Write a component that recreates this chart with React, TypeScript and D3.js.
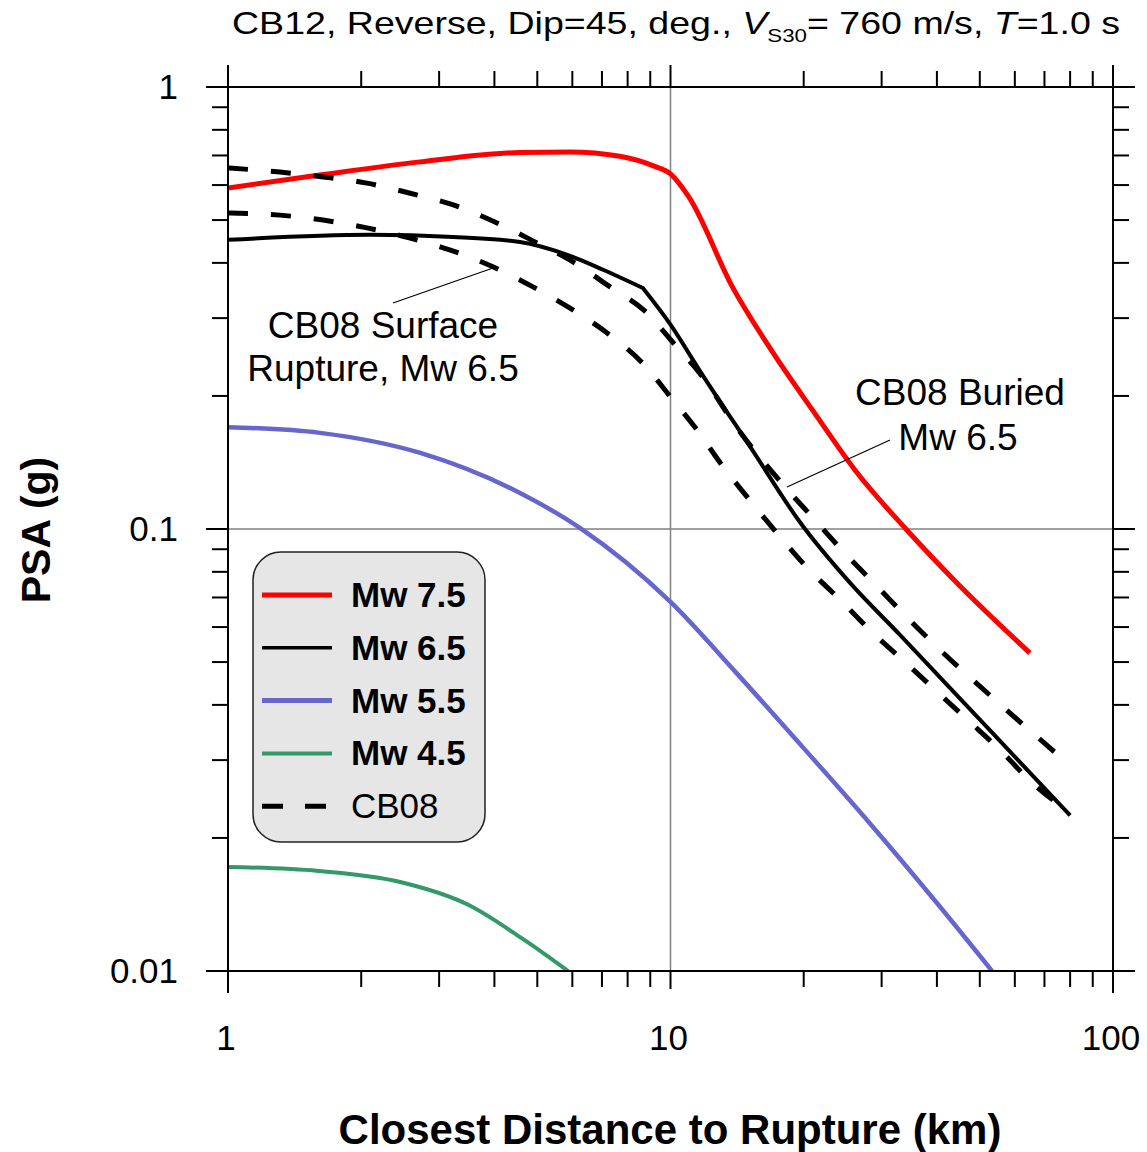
import React from "react";
import * as d3 from "d3";

const mw75Dist = [1, 1.61, 2.72, 4.57, 5.93, 7.68, 9.12, 10, 11.0, 13.8, 17.0, 21.0, 26.4, 34.2, 44.4, 64.9];
const mw75Psa = [0.591, 0.632, 0.677, 0.711, 0.713, 0.697, 0.664, 0.636, 0.564, 0.353, 0.2515, 0.185, 0.134, 0.0995, 0.0755, 0.0524];

const mw65Dist = [1, 2.09, 3.23, 4.57, 5.93, 7.04, 8.66, 10, 11.65, 15.3, 19.6, 25.4, 33.0, 42.8, 55.6, 80];
const mw65Psa = [0.451, 0.463, 0.458, 0.446, 0.415, 0.386, 0.351, 0.290, 0.228, 0.151, 0.1037, 0.0757, 0.0576, 0.0437, 0.0331, 0.0225];
const mw65BreakAt = [6]; // kink in the curve (index into mw65Dist)

const mw55Dist = [1, 1.614, 2.72, 4.57, 6.25, 10, 14.1, 19.9, 28.2, 40.0, 53.3];
const mw55Psa = [0.17, 0.165, 0.1486, 0.1206, 0.1005, 0.0684, 0.0472, 0.0321, 0.0216, 0.01425, 0.01];

const mw45Dist = [1, 1.6, 2.45, 3.5, 4.6, 5.35, 5.87];
const mw45Psa = [0.0172, 0.01684, 0.0159, 0.0141, 0.01188, 0.0107, 0.01];

const buriedDist = [1, 1.31, 1.64, 2.06, 2.58, 3.23, 4.01, 4.99, 5.93, 7.3, 8.76, 10.34, 11.65, 14.36, 18.15, 21.0, 24.5, 28.7, 40.0, 56.4, 78.7];
const buriedPsa = [0.656, 0.642, 0.626, 0.606, 0.575, 0.541, 0.495, 0.444, 0.406, 0.353, 0.311, 0.258, 0.225, 0.1657, 0.1245, 0.1059, 0.0892, 0.0757, 0.0541, 0.0396, 0.0296];

const surfaceDist = [1, 1.31, 1.64, 2.06, 2.58, 3.17, 3.97, 4.89, 6.02, 7.18, 8.66, 10, 11.48, 13.1, 15.1, 17.7, 20.3, 24.2, 28.2, 33.5, 46.9, 55.6, 65.8, 80];
const surfacePsa = [0.519, 0.513, 0.5, 0.48, 0.455, 0.428, 0.392, 0.353, 0.313, 0.278, 0.237, 0.199, 0.1675, 0.139, 0.1163, 0.0959, 0.082, 0.0691, 0.0591, 0.0505, 0.037, 0.0316, 0.0266, 0.0228];

const xMajor = [1, 10, 100];
const xMajorLabels = ["1", "10", "100"];
const xMinor = [2, 3, 4, 5, 6, 7, 8, 9, 20, 30, 40, 50, 60, 70, 80, 90];
const yMajor = [1, 0.1, 0.01];
const yMajorLabels = ["1", "0.1", "0.01"];
const yMinor = [0.02, 0.03, 0.04, 0.05, 0.06, 0.07, 0.08, 0.09, 0.2, 0.3, 0.4, 0.5, 0.6, 0.7, 0.8, 0.9];

const legendLabels = ["Mw 7.5", "Mw 6.5", "Mw 5.5", "Mw 4.5", "CB08"];

const FONT = "'Liberation Sans', Arial, Helvetica, sans-serif";

export default function App() {
  const L = 228, R = 1113, T = 87, B = 971;
  const x = d3.scaleLog().domain([1, 100]).range([L, R]);
  const y = d3.scaleLog().domain([0.01, 1]).range([B, T]);

  const gen = d3
    .line<[number, number]>()
    .x((d) => x(d[0]))
    .y((d) => y(d[1]))
    .curve(d3.curveMonotoneX);

  const line = (ds: number[], ps: number[], breaks: number[] = []) => {
    const pts: [number, number][] = ds.map((d, i) => [d, ps[i]]);
    const cuts = [0, ...breaks, pts.length - 1];
    let out = "";
    for (let k = 0; k < cuts.length - 1; k++) {
      const seg = pts.slice(cuts[k], cuts[k + 1] + 1);
      let p = gen(seg) || "";
      if (k > 0) p = p.replace(/^M[^A-Za-z]*/, "");
      out += p;
    }
    return out;
  };

  const series = [
    { d: line(mw55Dist, mw55Psa), color: "#6666cc", w: 4.5, dash: undefined },
    { d: line(mw45Dist, mw45Psa), color: "#339966", w: 4, dash: undefined },
    { d: line(mw75Dist, mw75Psa), color: "#ff0000", w: 5, dash: undefined },
    { d: line(mw65Dist, mw65Psa, mw65BreakAt), color: "#000000", w: 4, dash: undefined },
    { d: line(buriedDist, buriedPsa), color: "#000000", w: 5, dash: "20,23" },
    { d: line(surfaceDist, surfacePsa), color: "#000000", w: 5, dash: "20,23" },
  ];

  const legendStyles = [
    { color: "#ff0000", w: 5, dash: undefined, bold: true },
    { color: "#000000", w: 3.5, dash: undefined, bold: true },
    { color: "#6666cc", w: 5, dash: undefined, bold: true },
    { color: "#339966", w: 4, dash: undefined, bold: true },
    { color: "#000000", w: 5, dash: "21,22", bold: false },
  ];

  const ext = 22;
  const minorLen = 16;
  const majorLen = 22;

  return (
    <div style={{ position: "absolute", left: 0, top: 0 }}>
      <svg width={1147} height={1152} style={{ display: "block", background: "#fff" }} fontFamily={FONT}>
        <defs>
          <clipPath id="plotClip">
            <rect x={L} y={T} width={R - L} height={B - T} />
          </clipPath>
        </defs>

        {/* Title */}
        <text x={232} y={34} fontSize={32} textLength={888} lengthAdjust="spacingAndGlyphs" fill="#000">
          CB12, Reverse, Dip=45, deg.,{" "}
          <tspan fontStyle="italic">V</tspan>
          <tspan fontSize={19} dy={8}>S30</tspan>
          <tspan dy={-8}>= 760 m/s, </tspan>
          <tspan fontStyle="italic">T</tspan>
          <tspan>=1.0 s</tspan>
        </text>

        {/* grid lines */}
        <line x1={x(10)} x2={x(10)} y1={T} y2={B} stroke="#808080" strokeWidth={1.5} />
        <line x1={L} x2={R} y1={y(0.1)} y2={y(0.1)} stroke="#808080" strokeWidth={1.5} />

        {/* series */}
        <g clipPath="url(#plotClip)">
          {series.map((s, i) => (
            <path key={i} d={s.d} fill="none" stroke={s.color} strokeWidth={s.w} strokeDasharray={s.dash} strokeLinejoin="round" />
          ))}
        </g>

        {/* frame */}
        <g stroke="#000" strokeWidth={2}>
          <line x1={L - ext} x2={R + ext} y1={T} y2={T} />
          <line x1={L - ext} x2={R + ext} y1={B} y2={B} />
          <line x1={L} x2={L} y1={T - ext} y2={B + ext} />
          <line x1={R} x2={R} y1={T - ext} y2={B + ext} />
          {xMinor.map((v) => (
            <g key={"xm" + v}>
              <line x1={x(v)} x2={x(v)} y1={T} y2={T - minorLen} />
              <line x1={x(v)} x2={x(v)} y1={B} y2={B + minorLen} />
            </g>
          ))}
          <line x1={x(10)} x2={x(10)} y1={T} y2={T - majorLen} />
          <line x1={x(10)} x2={x(10)} y1={B} y2={B + majorLen - 4} />
          {yMinor.map((v) => (
            <g key={"ym" + v}>
              <line x1={L} x2={L - minorLen} y1={y(v)} y2={y(v)} />
              <line x1={R} x2={R + minorLen} y1={y(v)} y2={y(v)} />
            </g>
          ))}
          <line x1={L} x2={L - majorLen} y1={y(0.1)} y2={y(0.1)} />
          <line x1={R} x2={R + majorLen} y1={y(0.1)} y2={y(0.1)} />
        </g>

        {/* tick labels */}
        {yMajor.map((v, i) => (
          <text key={"yl" + v} x={178} y={y(v) + 12} fontSize={35} textAnchor="end" fill="#000">
            {yMajorLabels[i]}
          </text>
        ))}
        {xMajor.map((v, i) => (
          <text key={"xl" + v} x={x(v) - 2} y={1050} fontSize={35} textAnchor="middle" fill="#000">
            {xMajorLabels[i]}
          </text>
        ))}

        {/* axis titles */}
        <text x={670} y={1144} fontSize={42} fontWeight="bold" textAnchor="middle" fill="#000">
          Closest Distance to Rupture (km)
        </text>
        <text transform="translate(50,530) rotate(-90)" fontSize={41} fontWeight="bold" textAnchor="middle" fill="#000">
          PSA (g)
        </text>

        {/* annotations */}
        <line x1={393} y1={303} x2={493} y2={268} stroke="#000" strokeWidth={1.2} />
        <line x1={890} y1={440} x2={787} y2={487} stroke="#000" strokeWidth={1.2} />
        <text x={383} y={338} fontSize={37} textAnchor="middle" fill="#000">CB08 Surface</text>
        <text x={383} y={381} fontSize={37} textAnchor="middle" fill="#000">Rupture, Mw 6.5</text>
        <text x={960} y={405} fontSize={37} textAnchor="middle" fill="#000">CB08 Buried</text>
        <text x={958} y={450} fontSize={37} textAnchor="middle" fill="#000">Mw 6.5</text>

        {/* legend */}
        <rect x={253} y={552} width={232} height={290} rx={28} ry={28} fill="#e6e6e6" stroke="#222" strokeWidth={1.5} />
        {legendLabels.map((lab, i) => {
          const ly = 595 + i * 52.8;
          const st = legendStyles[i];
          return (
            <g key={lab}>
              <line x1={262} x2={332} y1={ly} y2={ly} stroke={st.color} strokeWidth={st.w} strokeDasharray={st.dash} />
              <text x={351} y={ly + 12} fontSize={35} fontWeight={st.bold ? "bold" : "normal"} fill="#000">
                {lab}
              </text>
            </g>
          );
        })}
      </svg>
    </div>
  );
}
